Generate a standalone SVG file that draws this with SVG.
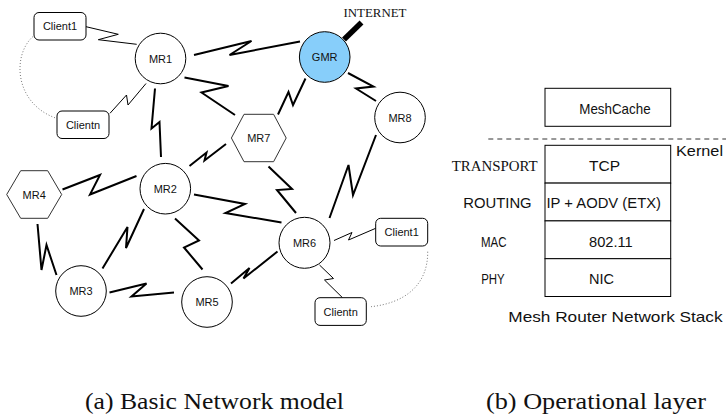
<svg xmlns="http://www.w3.org/2000/svg" width="726" height="416" viewBox="0 0 726 416">
<style>
.bg{fill:#fff}
.node{fill:#fff;stroke:#000;stroke-width:1}
.hex{fill:#fff;stroke:#333;stroke-width:1}
.gw{fill:#87CEFA;stroke:#000;stroke-width:1}
.box{fill:#fff;stroke:#000;stroke-width:1}
.t{font-family:"Liberation Sans",Arial,sans-serif;font-size:11px;fill:#111;text-anchor:middle}
.s{font-family:"Liberation Sans",Arial,sans-serif;font-size:14.5px;fill:#111}
.serif{font-family:"Liberation Serif","Times New Roman",serif;fill:#111}
.wl{fill:none;stroke:#000;stroke-width:2;stroke-linejoin:miter}
.wt{fill:none;stroke:#000;stroke-width:1}
.dot{fill:none;stroke:#777;stroke-width:1;stroke-dasharray:1 2}
</style>
<rect class="bg" x="0" y="0" width="726" height="416"/>

<g id="connectors">
  <polyline class="wt" points="86,26.7 118.3,34.3 98.3,39.7 136.7,44.3"/>
  <polyline class="wt" points="110,113.3 126.5,95 128,105 146,83.5"/>
  <polyline class="wt" points="334,240.5 352,232.5 348.5,240 375.7,228.3"/>
  <polyline class="wt" points="319.5,265 333.5,278.5 324.5,280 342.5,297.7"/>
  <path class="dot" d="M33,36.5 C12,55 14,104 57,118.5"/>
  <path class="dot" d="M427.7,251.7 C428,285 405,303 371,306.7"/>
  <polyline class="wl" points="194,55 251.5,41 229.5,55 300,41.5"/>
  <polyline class="wl" points="184.5,77.5 228.5,86 201.5,92.5 235,115"/>
  <polyline class="wl" points="155,88.5 151.5,128.5 159.5,122 161,157"/>
  <polyline class="wl" points="305.5,78.5 293,105 288.5,92 278,114.5"/>
  <polyline class="wl" points="348,73 373.5,86.5 356,88.5 376,101"/>
  <polyline class="wl" points="376,135 353,195 348.5,165 329.5,218"/>
  <polyline class="wl" points="268.5,166.5 292,189 277,190 296,213"/>
  <polyline class="wl" points="226,144 204.5,160.5 206.5,152.5 189.5,166"/>
  <polyline class="wl" points="136.5,176 90,194.5 100,175 62.5,189.5"/>
  <polyline class="wl" points="194,194.5 245,204 225.5,213 281.5,222.5"/>
  <polyline class="wl" points="144,209 126,248 127.5,227 102.5,268.5"/>
  <polyline class="wl" points="175,218.5 199,240.5 184,247.5 202.5,269.5"/>
  <polyline class="wl" points="37.5,224 41.5,270 46.5,245 56.5,275"/>
  <polyline class="wl" points="109.5,292.5 146.5,283.5 131.5,296.5 174,292.5"/>
  <polyline class="wl" points="231,283.5 249.5,268 243.5,278.5 277.5,251.5"/>
  <line x1="344" y1="39.5" x2="361.5" y2="22.5" stroke="#000" stroke-width="5.5"/>
</g>

<g id="internet"><text class="serif" x="343.5" y="16.7" font-size="12.5" textLength="63" lengthAdjust="spacingAndGlyphs">INTERNET</text></g>

<g id="client1-left"><rect class="box" x="34" y="12.5" width="52" height="27.5" rx="5"/><text class="t" x="60" y="30.3" textLength="34.2" lengthAdjust="spacingAndGlyphs">Client1</text></g>
<g id="clientn-left"><rect class="box" x="57" y="111" width="52" height="27.5" rx="5"/><text class="t" x="83" y="128.7" textLength="34.2" lengthAdjust="spacingAndGlyphs">Clientn</text></g>
<g id="mr1"><circle class="node" cx="160.5" cy="58.5" r="25.3"/><text class="t" x="160.5" y="62.5" textLength="23.2" lengthAdjust="spacingAndGlyphs">MR1</text></g>
<g id="gmr"><circle class="gw" cx="324.7" cy="57" r="25.3"/><text class="t" x="324.7" y="61" textLength="25.7" lengthAdjust="spacingAndGlyphs">GMR</text></g>
<g id="mr8"><circle class="node" cx="400" cy="117.5" r="25.3"/><text class="t" x="400" y="121.5" textLength="23.2" lengthAdjust="spacingAndGlyphs">MR8</text></g>
<g id="mr7"><polygon class="hex" points="244,114.3 273.6,114.3 286.2,138 273.6,161.7 244,161.7 231.4,138"/><text class="t" x="258.8" y="142" textLength="23.2" lengthAdjust="spacingAndGlyphs">MR7</text></g>
<g id="mr2"><circle class="node" cx="165.3" cy="188.7" r="25.3"/><text class="t" x="165.3" y="192.7" textLength="23.2" lengthAdjust="spacingAndGlyphs">MR2</text></g>
<g id="mr4"><polygon class="hex" points="20.7,170.7 47.7,170.7 61.7,194.5 47.7,218.3 20.7,218.3 6.7,194.5"/><text class="t" x="34.2" y="198.5" textLength="23.2" lengthAdjust="spacingAndGlyphs">MR4</text></g>
<g id="mr3"><circle class="node" cx="81" cy="291" r="25.3"/><text class="t" x="81" y="295" textLength="23.2" lengthAdjust="spacingAndGlyphs">MR3</text></g>
<g id="mr5"><circle class="node" cx="207" cy="302" r="25.3"/><text class="t" x="207" y="306" textLength="23.2" lengthAdjust="spacingAndGlyphs">MR5</text></g>
<g id="mr6"><circle class="node" cx="304.5" cy="242.8" r="25.5"/><text class="t" x="304.5" y="246.8" textLength="23.2" lengthAdjust="spacingAndGlyphs">MR6</text></g>
<g id="client1-right"><rect class="box" x="375.7" y="218.3" width="52" height="27.7" rx="5"/><text class="t" x="401.7" y="236.2" textLength="34.2" lengthAdjust="spacingAndGlyphs">Client1</text></g>
<g id="clientn-right"><rect class="box" x="315" y="297.7" width="51.3" height="27.7" rx="5"/><text class="t" x="340.7" y="315.6" textLength="34.2" lengthAdjust="spacingAndGlyphs">Clientn</text></g>

<g id="meshcache"><rect class="box" x="545" y="88.3" width="125.7" height="38"/><text class="s" x="579.3" y="114" textLength="71.3" lengthAdjust="spacingAndGlyphs">MeshCache</text></g>
<g id="kernel-boundary">
  <line x1="488.3" y1="139" x2="726" y2="139" stroke="#333" stroke-width="1" stroke-dasharray="5 4"/>
  <text class="s" x="676" y="156" font-size="14" textLength="47" lengthAdjust="spacingAndGlyphs">Kernel</text>
</g>
<g id="layer-transport"><rect class="box" x="545" y="145.3" width="125.7" height="37.8"/><text class="s" x="589" y="170.7" textLength="31" lengthAdjust="spacingAndGlyphs">TCP</text><text class="serif" x="451.7" y="171" font-size="14" textLength="86" lengthAdjust="spacingAndGlyphs">TRANSPORT</text></g>
<g id="layer-routing"><rect class="box" x="545" y="183.1" width="125.7" height="37.8"/><text class="s" x="546.5" y="208.3" textLength="114.5" lengthAdjust="spacingAndGlyphs">IP + AODV (ETX)</text><text class="s" x="463.3" y="208.3" textLength="68.3" lengthAdjust="spacingAndGlyphs">ROUTING</text></g>
<g id="layer-mac"><rect class="box" x="545" y="220.9" width="125.7" height="37.8"/><text class="s" x="589" y="246.7" textLength="43.7" lengthAdjust="spacingAndGlyphs">802.11</text><text class="s" x="481" y="246.7" textLength="25.5" lengthAdjust="spacingAndGlyphs">MAC</text></g>
<g id="layer-phy"><rect class="box" x="545" y="258.7" width="125.7" height="37.8"/><text class="s" x="589" y="284.3" textLength="25" lengthAdjust="spacingAndGlyphs">NIC</text><text class="s" x="481.2" y="284.3" textLength="23.5" lengthAdjust="spacingAndGlyphs">PHY</text></g>
<g id="stack-title"><text class="s" x="508.3" y="321.7" font-size="15" textLength="214.3" lengthAdjust="spacingAndGlyphs">Mesh Router Network Stack</text></g>

<g id="captions">
  <text class="serif" x="85" y="409.3" font-size="22.5" textLength="259" lengthAdjust="spacingAndGlyphs">(a) Basic Network model</text>
  <text class="serif" x="486" y="409.3" font-size="22.5" textLength="220" lengthAdjust="spacingAndGlyphs">(b) Operational layer</text>
</g>
</svg>
